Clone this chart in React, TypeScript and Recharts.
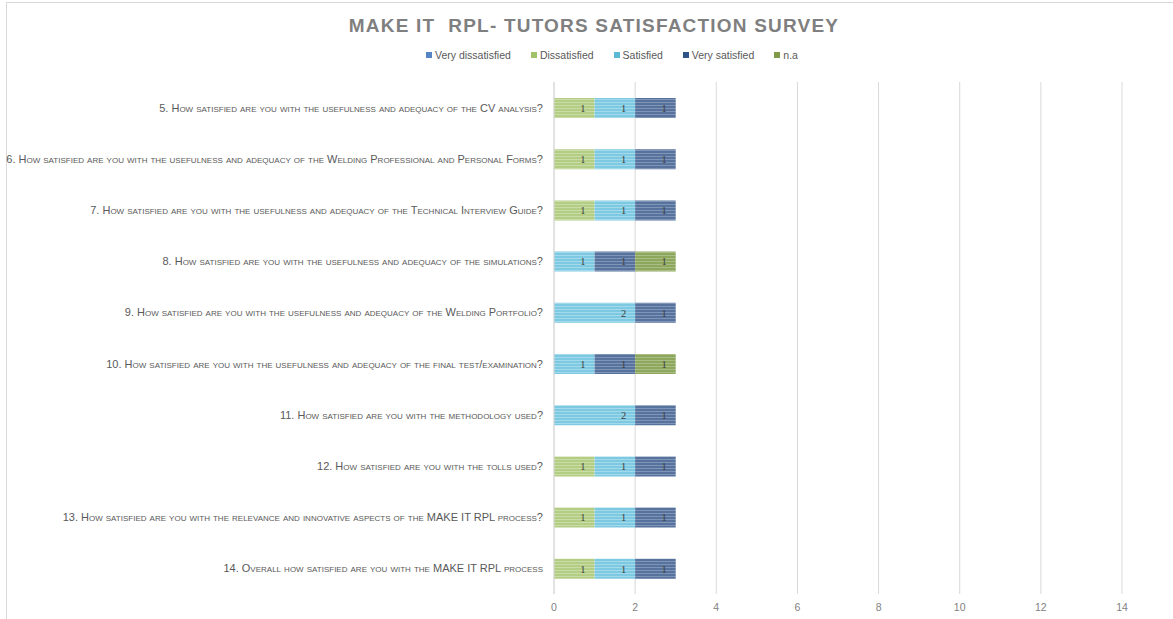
import { BarChart, Bar, XAxis, YAxis, CartesianGrid, LabelList } from 'recharts';

const questions = [
  '5. How satisfied are you with the usefulness and adequacy of the CV analysis?',
  '6. How satisfied are you with the usefulness and adequacy of the Welding Professional and Personal Forms?',
  '7. How satisfied are you with the usefulness and adequacy of the Technical Interview Guide?',
  '8. How satisfied are you with the usefulness and adequacy of the simulations?',
  '9. How satisfied are you with the usefulness and adequacy of the Welding Portfolio?',
  '10.  How satisfied are you with the usefulness and adequacy of the final test/examination?',
  '11. How satisfied are you with the methodology used?',
  '12. How satisfied are you with the tolls used?',
  '13. How satisfied are you with the relevance and innovative aspects of the MAKE IT RPL process?',
  '14. Overall how satisfied are you with the MAKE IT RPL process',
];

const veryDissatisfied = [null, null, null, null, null, null, null, null, null, null];
const dissatisfied = [1, 1, 1, null, null, null, null, 1, 1, 1];
const satisfied = [1, 1, 1, 1, 2, 1, 2, 1, 1, 1];
const verySatisfied = [1, 1, 1, 1, 1, 1, 1, 1, 1, 1];
const notApplicable = [null, null, null, 1, null, 1, null, null, null, null];

const xTicks = [0, 2, 4, 6, 8, 10, 12, 14];

const series = [
  { key: 'vd', name: 'Very dissatisfied', values: veryDissatisfied, color: '#5585c3', bar: '#6d95cc', stripe: '#8aaad6' },
  { key: 'd', name: 'Dissatisfied', values: dissatisfied, color: '#a2c26a', bar: '#b3cd85', stripe: '#c9dca6' },
  { key: 's', name: 'Satisfied', values: satisfied, color: '#5cb9d6', bar: '#7cc9e1', stripe: '#a3daeb' },
  { key: 'vs', name: 'Very satisfied', values: verySatisfied, color: '#2f5487', bar: '#56729d', stripe: '#7e95b8' },
  { key: 'na', name: 'n.a', values: notApplicable, color: '#7f9a48', bar: '#8da75c', stripe: '#a9bd84' },
];

const data = questions.map((q, i) => {
  const row: Record<string, any> = { q };
  series.forEach((s) => {
    row[s.key] = s.values[i] ?? undefined;
  });
  return row;
});

const QuestionTick = (props: any) => {
  const { x, y, payload } = props;
  return (
    <text
      x={x}
      y={y}
      dy={4}
      textAnchor="end"
      fill="#595959"
      fontSize={11}
      fontFamily="Liberation Sans Narrow, Liberation Sans, sans-serif"
      style={{ fontVariant: 'small-caps' }}
    >
      {payload.value}
    </text>
  );
};

export default function App() {
  return (
    <div style={{ position: 'absolute', left: 0, top: 0, width: 1173, height: 619, overflow: 'hidden', background: '#fff' }}>
      <div style={{ position: 'absolute', left: 6, top: 2, width: 1200, height: 700, border: '1px solid #d9d9d9' }} />
      <div
        style={{
          position: 'absolute',
          left: 0,
          top: 15,
          width: 1188,
          textAlign: 'center',
          fontFamily: 'Liberation Sans, sans-serif',
          fontWeight: 'bold',
          fontSize: 19,
          letterSpacing: 1.2,
          color: '#7f7f7f',
          whiteSpace: 'pre',
        }}
      >
        {'MAKE IT  RPL- TUTORS SATISFACTION SURVEY'}
      </div>
      <div
        style={{
          position: 'absolute',
          left: 426,
          top: 49,
          display: 'flex',
          gap: 20,
          fontSize: 10.5,
          color: '#595959',
          fontFamily: 'Liberation Sans Narrow, sans-serif',
        }}
      >
        {series.map((s) => (
          <span key={s.key} style={{ display: 'flex', alignItems: 'center' }}>
            <span style={{ width: 6, height: 6, background: s.color, marginRight: 3, display: 'inline-block' }} />
            {s.name}
          </span>
        ))}
      </div>
      <div style={{ position: 'absolute', left: 0, top: 0 }}>
        <BarChart
          width={1173}
          height={619}
          data={data}
          layout="vertical"
          barSize={20}
          margin={{ top: 82, right: 51, bottom: 5, left: 0 }}
        >
          <defs>
            {series.map((s) => (
              <pattern key={s.key} id={`stripe-${s.key}`} width={4} height={3} patternUnits="userSpaceOnUse">
                <rect width={4} height={3} fill={s.bar} />
                <rect width={4} height={1} fill={s.stripe} />
              </pattern>
            ))}
          </defs>
          <CartesianGrid horizontal={false} stroke="#d9d9d9" />
          <XAxis
            type="number"
            domain={[0, 14]}
            ticks={xTicks}
            axisLine={false}
            tickLine={false}
            height={20}
            tickMargin={4}
            tick={{ fill: '#7f7f7f', fontSize: 10.5, fontFamily: 'Liberation Sans Narrow, sans-serif' }}
          />
          <YAxis
            type="category"
            dataKey="q"
            width={554}
            axisLine={{ stroke: '#d9d9d9' }}
            tickLine={false}
            tickMargin={5}
            tick={<QuestionTick />}
            interval={0}
          />
          {series.map((s) => (
            <Bar key={s.key} dataKey={s.key} name={s.name} stackId="a" fill={`url(#stripe-${s.key})`} isAnimationActive={false}>
              <LabelList
                dataKey={s.key}
                position="insideRight"
                offset={9}
                fill="#404040"
                fontSize={10.5}
                formatter={(v: any) => (v ? v : '')}
              />
            </Bar>
          ))}
        </BarChart>
      </div>
    </div>
  );
}
